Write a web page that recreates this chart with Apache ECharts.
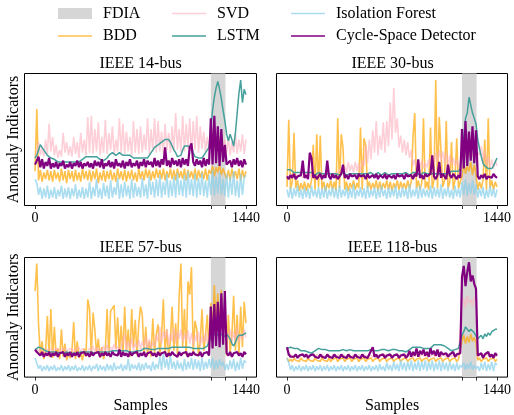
<!DOCTYPE html>
<html>
<head>
<meta charset="utf-8">
<script src="https://cdn.jsdelivr.net/npm/echarts@6/dist/echarts.min.js"></script>
<style>
  html, body { margin: 0; padding: 0; background: #fff; }
  #chart { width: 514px; height: 415px; }
</style>
</head>
<body>
<div id="chart"></div>
<script>
// sample spacing of the typed values (every 12th sample of 0..1440)
const STEP = 12;
const FDIA_START = 1200;
const FDIA_END = 1300;
const xTicks = [0, 1200, 1300, 1440];
const xLabels = [0, 1440];
const titles = ['IEEE 14-bus', 'IEEE 30-bus', 'IEEE 57-bus', 'IEEE 118-bus'];

// ---- IEEE 14-bus ----
const bdd14 = [
  26,73,19,27,18,25,20,27,19,26,
  18,27,20,25,18,28,19,26,17,27,
  20,26,18,27,19,25,18,28,20,26,
  19,27,18,26,20,28,17,25,19,27,
  18,26,20,27,19,25,18,28,20,26,
  19,27,18,26,20,27,19,25,18,28,
  20,26,19,28,21,27,19,26,20,28,
  21,27,20,28,19,26,21,28,20,27,
  19,28,21,26,20,28,19,27,21,26,
  20,28,19,27,21,26,20,28,19,27,
  24,30,22,29,25,31,23,28,24,20,
  27,19,28,21,26,20,28,19,27,21,
  26
];
const svd14 = [
  36,40,48,38,44,37,50,39,62,41,
  52,38,46,36,42,37,55,40,48,38,
  45,37,52,39,48,36,55,40,50,38,
  67,40,68,39,58,41,63,38,52,40,
  65,39,55,42,60,38,50,41,66,40,
  62,39,56,41,52,38,64,40,58,39,
  60,40,54,42,66,39,58,41,66,40,
  64,41,56,39,62,42,55,40,60,41,
  70,42,58,40,68,41,62,43,66,40,
  64,42,68,40,60,43,56,41,52,42,
  55,45,60,44,58,46,52,43,50,40,
  52,38,48,40,55,39,50,41,54,39,
  50
];
const lstm14 = [
  36,38,42,46,44,42,40,38,37,36,
  36,35,34,33,34,33,32,33,34,33,
  32,33,34,33,32,33,34,35,36,37,
  36,37,38,37,36,37,36,35,35,34,
  35,36,38,39,40,39,38,39,40,39,
  38,39,38,37,38,37,36,37,36,35,
  36,35,36,37,36,38,40,42,44,45,
  46,47,48,49,50,49,50,48,45,42,
  40,37,36,38,42,45,46,45,46,44,
  40,37,36,36,37,36,38,40,41,44,
  58,72,82,89,94,88,81,72,64,54,
  49,54,50,45,55,70,85,95,78,88,
  84
];
const iforest14 = [
  20,17,8,14,5,13,6,15,5,12,
  6,14,5,12,7,15,5,13,6,14,
  5,13,7,16,5,12,6,14,5,13,
  6,18,5,14,7,20,6,13,5,17,
  7,15,5,19,6,14,8,21,5,16,
  6,18,7,15,5,20,6,17,7,14,
  6,21,7,16,5,22,8,18,6,20,
  7,23,6,18,8,24,6,19,7,22,
  6,25,8,19,7,23,6,26,8,20,
  7,24,6,21,8,25,7,19,6,23,
  8,27,7,22,9,25,8,20,7,24,
  6,22,8,26,7,19,6,24,8,21,
  23
];
const csd14 = [
  31,34,37,29,35,28,33,30,36,28,
  32,29,33,28,32,30,34,28,31,29,
  33,28,32,30,34,29,33,28,32,30,
  33,29,32,28,34,30,33,29,35,28,
  32,30,34,29,33,28,35,30,32,29,
  34,28,33,30,35,29,32,30,34,28,
  33,30,35,29,34,31,33,29,36,30,
  34,29,35,31,44,30,34,29,36,31,
  34,30,35,29,36,31,35,30,44,47,
  33,30,35,31,34,29,36,30,35,31,
  66,31,68,32,60,30,58,33,46,31,
  30,34,29,35,31,36,30,34,29,35,
  31
];

// ---- IEEE 30-bus ----
const bdd30 = [
  14,65,12,18,55,13,19,11,17,12,
  18,11,17,13,19,46,12,54,14,53,
  12,18,11,17,13,19,12,18,11,66,
  13,54,44,12,18,11,17,13,19,12,
  17,13,59,12,51,45,13,18,12,17,
  13,19,11,18,12,17,13,19,12,18,
  11,17,13,19,12,18,13,17,12,19,
  13,18,52,70,13,19,12,17,66,13,
  18,12,59,13,19,95,13,67,67,14,
  19,64,13,18,48,12,19,51,13,18,
  22,32,24,30,26,33,23,31,24,12,
  18,13,19,50,12,66,13,19,12,18,
  14
];
const svd30 = [
  23,21,24,22,25,21,23,22,24,21,
  23,25,22,24,21,25,22,24,23,25,
  22,24,23,25,22,24,21,24,23,25,
  24,28,26,30,25,33,26,31,25,33,
  26,32,25,34,30,46,32,50,35,57,
  40,64,38,53,42,63,40,64,45,78,
  50,89,55,66,44,53,40,50,38,48,
  36,42,30,35,28,33,29,34,28,32,
  29,35,30,38,31,40,33,42,34,41,
  32,40,30,38,31,36,30,35,29,33,
  35,45,38,42,36,44,37,40,35,40,
  38,45,33,42,30,37,29,35,28,34,
  30
];
const lstm30 = [
  27,26,27,26,25,26,25,26,25,24,
  25,24,25,24,25,24,23,24,25,24,
  24,25,24,23,24,25,24,23,24,24,
  23,24,25,24,23,24,24,23,24,25,
  24,23,24,25,24,23,24,24,25,24,
  23,24,25,24,23,24,25,24,23,24,
  24,25,24,23,24,25,24,24,25,24,
  23,24,25,24,25,24,23,24,25,24,
  24,25,24,23,24,25,24,25,24,25,
  24,25,24,25,26,25,26,27,26,28,
  40,52,66,70,82,76,70,66,62,50,
  43,37,32,30,29,28,29,28,30,33,
  36
];
const iforest30 = [
  12,6,14,5,13,7,15,6,12,5,
  14,6,13,5,15,7,12,6,14,5,
  13,6,15,5,12,7,14,6,13,5,
  15,6,12,7,14,5,13,6,16,5,
  12,7,14,6,13,5,15,6,12,7,
  14,5,13,6,15,7,12,5,14,6,
  13,7,15,5,12,6,14,7,13,5,
  16,6,12,7,14,5,15,6,13,7,
  12,6,15,5,14,7,13,6,16,5,
  13,7,14,6,12,5,15,7,13,6,
  18,8,20,7,17,9,19,8,16,6,
  13,7,14,5,12,6,15,7,13,6,
  12
];
const csd30 = [
  22,20,23,21,24,20,22,21,23,34,
  21,23,20,40,36,21,23,20,22,24,
  20,23,21,34,22,20,24,21,23,20,
  22,24,31,21,23,20,24,22,21,23,
  20,24,22,21,23,20,24,21,22,23,
  21,24,20,23,22,21,24,20,23,22,
  21,23,20,24,22,21,23,20,24,22,
  21,23,20,24,22,35,21,23,20,24,
  22,21,24,38,22,20,23,33,21,24,
  22,20,31,23,21,24,22,20,23,21,
  58,28,64,30,56,34,60,32,57,22,
  20,23,21,24,20,22,23,21,24,22,
  21
];

// ---- IEEE 57-bus ----
const bdd57 = [
  72,95,44,18,30,15,22,51,17,57,
  16,42,18,24,15,40,17,28,14,20,
  16,22,46,15,30,16,20,14,24,17,
  65,57,18,54,40,20,32,16,25,15,
  22,57,18,55,55,60,24,50,20,43,
  18,59,22,40,17,57,25,48,18,44,
  59,52,20,42,18,30,17,49,20,36,
  44,18,35,65,20,40,17,30,59,22,
  45,19,68,95,25,57,18,80,69,92,
  20,47,40,18,30,57,22,35,52,20,
  62,40,77,45,70,42,73,38,60,18,
  52,20,35,68,22,52,18,59,25,63,
  45
];
const svd57 = [
  22,24,21,23,22,24,21,23,22,24,
  21,23,22,24,21,23,22,24,21,23,
  22,24,21,23,22,25,21,24,22,23,
  21,24,22,26,21,25,22,24,21,26,
  22,27,21,25,23,28,22,26,21,25,
  24,36,22,30,24,33,22,28,25,31,
  23,30,25,34,22,32,24,29,26,35,
  30,42,28,38,32,40,27,36,30,41,
  28,38,32,40,29,36,31,39,28,37,
  27,35,30,38,26,34,29,37,28,33,
  40,48,38,46,42,50,39,45,41,30,
  34,40,28,38,30,42,29,36,31,40,
  33
];
const lstm57 = [
  23,24,25,25,24,23,22,22,21,21,
  21,20,21,20,20,21,20,20,21,20,
  20,21,20,21,20,20,21,20,21,20,
  21,20,21,21,20,21,21,22,21,21,
  21,22,21,21,22,21,22,21,22,21,
  22,21,22,22,21,22,21,22,22,21,
  22,23,24,23,24,24,23,24,23,24,
  24,23,24,25,24,23,24,24,25,24,
  25,24,25,26,25,26,25,24,25,24,
  24,25,24,25,24,25,24,25,26,27,
  33,35,34,36,35,34,36,35,34,36,
  35,32,28,26,29,33,35,36,35,36,
  37
];
const iforest57 = [
  16,15,7,10,5,9,6,10,5,9,
  6,10,5,8,6,10,5,9,6,10,
  5,9,6,10,5,8,6,10,5,9,
  6,10,5,9,7,11,5,10,6,9,
  5,11,6,10,5,12,6,9,7,11,
  5,10,6,15,5,11,7,10,6,12,
  5,11,6,12,7,10,5,13,6,11,
  7,17,6,20,8,15,6,18,7,13,
  6,14,7,12,5,15,6,13,7,16,
  6,15,7,14,5,16,6,13,7,15,
  8,16,6,14,7,15,9,13,6,11,
  6,14,7,15,5,13,6,16,7,14,
  12
];
const csd57 = [
  23,21,22,18,21,17,20,18,21,17,
  20,18,21,17,20,19,21,17,20,18,
  21,17,20,18,21,17,20,19,21,18,
  20,17,21,18,20,19,21,17,20,18,
  21,18,20,17,21,19,20,18,23,17,
  21,18,20,17,21,18,20,19,21,17,
  20,18,21,17,20,19,21,18,20,17,
  21,18,20,19,21,17,20,18,21,19,
  20,17,21,18,20,19,21,17,20,18,
  21,19,20,18,21,17,20,19,21,18,
  59,24,61,26,63,25,70,27,72,20,
  18,21,17,20,19,21,18,20,17,21,
  19
];

// ---- IEEE 118-bus ----
const bdd118 = [
  16,13,15,13,16,14,15,13,16,14,
  15,13,16,14,15,13,16,14,15,13,
  16,14,15,13,16,13,15,14,16,13,
  15,14,16,13,15,14,16,13,15,14,
  16,13,15,14,16,13,15,14,16,13,
  15,14,16,13,15,14,16,13,15,14,
  16,13,15,14,16,13,15,14,16,13,
  15,14,16,13,15,14,16,13,15,14,
  16,13,15,14,16,13,15,14,16,13,
  15,14,16,13,15,14,16,13,15,14,
  30,35,28,34,29,36,30,33,29,14,
  16,13,15,14,16,13,15,14,16,13,
  15
];
const svd118 = [
  18,17,19,18,17,19,18,17,19,18,
  17,19,18,17,19,18,17,19,18,17,
  19,18,17,19,18,17,19,18,17,19,
  18,17,19,18,17,19,18,17,19,18,
  17,19,18,17,19,18,17,19,18,17,
  19,18,17,19,18,17,19,18,17,19,
  18,17,19,18,17,19,18,17,19,18,
  17,19,18,17,19,18,17,19,18,17,
  19,18,17,19,18,17,19,18,17,19,
  18,17,19,18,17,19,18,17,19,18,
  60,66,58,68,62,65,59,67,61,18,
  17,19,18,17,19,18,17,19,18,17,
  18
];
const lstm118 = [
  24,24,25,24,24,23,24,23,22,22,
  22,21,21,21,20,21,22,23,24,23,
  23,24,23,23,22,23,22,22,22,22,
  22,22,23,22,22,22,23,22,22,22,
  22,23,22,22,22,23,22,22,23,22,
  22,23,22,23,23,22,23,23,22,23,
  23,22,23,23,22,23,22,22,21,22,
  23,24,25,26,25,26,25,24,24,25,
  24,23,24,25,27,26,27,28,27,28,
  26,25,24,23,22,22,23,24,24,25,
  35,38,42,40,38,40,41,37,36,32,
  33,35,32,36,34,37,35,38,37,40,
  40
];
const iforest118 = [
  16,12,6,10,5,9,6,10,5,9,
  6,10,5,9,6,10,5,9,6,10,
  5,9,6,10,5,9,6,10,5,9,
  6,10,5,9,6,10,5,9,6,10,
  5,9,6,10,5,9,6,10,5,9,
  6,10,5,11,6,9,5,12,6,10,
  5,13,6,11,5,14,6,12,5,13,
  6,14,5,12,6,14,5,13,6,14,
  5,13,6,14,5,12,6,14,5,13,
  6,12,5,13,6,11,5,12,6,10,
  8,12,6,11,7,13,6,10,7,9,
  5,12,6,13,5,11,6,13,5,12,
  10
];
const csd118 = [
  25,19,17,18,17,19,16,18,17,19,
  17,19,16,18,17,19,17,18,16,19,
  17,18,16,19,17,18,16,19,17,18,
  16,19,17,18,16,19,17,18,16,19,
  17,18,16,19,17,18,16,19,22,25,
  17,19,16,18,17,19,16,18,17,19,
  16,18,17,19,16,18,17,19,16,18,
  22,17,21,18,24,17,22,19,23,18,
  21,17,24,19,22,18,23,17,21,19,
  18,20,17,19,18,21,17,19,18,20,
  84,93,76,88,96,80,85,78,74,18,
  17,20,16,19,18,21,17,19,16,20,
  18
];

const FONT = "'Liberation Serif', 'Times New Roman', serif";
const GRAY = '#d6d6d6';
const LINE_ICON = 'path://M0,0 H34 V1.6 H0 Z';

const methods = [
  { name: 'BDD', color: 'rgba(255,165,0,0.7)', width: 1.6, data: [bdd14, bdd30, bdd57, bdd118] },
  { name: 'SVD', color: 'rgba(255,175,190,0.6)', width: 1.6, data: [svd14, svd30, svd57, svd118] },
  { name: 'LSTM', color: '#45a09b', width: 1.5, data: [lstm14, lstm30, lstm57, lstm118] },
  { name: 'Isolation Forest', color: 'rgba(135,206,235,0.7)', width: 1.6, data: [iforest14, iforest30, iforest57, iforest118] },
  { name: 'Cycle-Space Detector', color: '#800080', width: 2.2, data: [csd14, csd30, csd57, csd118] }
];

const grids = [
  { left: 24.5, top: 73.5, width: 232, height: 132 },
  { left: 276.5, top: 73.5, width: 232, height: 132 },
  { left: 24.5, top: 257.5, width: 232, height: 132 },
  { left: 276.5, top: 257.5, width: 232, height: 132 }
];
const titleY = [63.5, 63.5, 248, 248];

function toPoints(arr) {
  return arr.map(function (v, i) { return [i * STEP, v]; });
}

const series = [];
grids.forEach(function (g, i) {
  series.push({
    name: 'FDIA', type: 'line', xAxisIndex: i, yAxisIndex: i,
    data: [], symbol: 'none', silent: true,
    itemStyle: { color: GRAY }, lineStyle: { color: GRAY },
    markArea: {
      silent: true,
      itemStyle: { color: GRAY },
      label: { show: false },
      data: [[{ xAxis: FDIA_START }, { xAxis: FDIA_END }]]
    }
  });
  methods.forEach(function (m) {
    series.push({
      name: m.name, type: 'line', xAxisIndex: i, yAxisIndex: i,
      data: toPoints(m.data[i]),
      symbol: 'none', showSymbol: false, silent: true,
      itemStyle: { color: m.color },
      lineStyle: { color: m.color, width: m.width },
      emphasis: { disabled: true }
    });
  });
});

const legendBase = {
  orient: 'vertical', top: 5.5, itemWidth: 34, itemHeight: 11, itemGap: 6.5, padding: 0,
  selectedMode: false,
  textStyle: { fontFamily: FONT, fontSize: 16, color: '#000', lineHeight: 16, padding: [0, 0, 0, 6] }
};
function lineItem(name) {
  return { name: name, icon: LINE_ICON };
}

const chart = echarts.init(document.getElementById('chart'), null, { renderer: 'canvas' });
chart.setOption({
  animation: false,
  backgroundColor: '#fff',
  grid: grids.map(function (g) {
    return Object.assign({ show: true, borderColor: '#000', borderWidth: 1, backgroundColor: 'transparent' }, g);
  }),
  xAxis: grids.map(function (g, i) {
    return {
      gridIndex: i, type: 'value', min: -72, max: 1512,
      axisLine: { show: false },
      axisTick: { show: true, customValues: xTicks, length: 3.5, lineStyle: { color: '#000', width: 0.8 } },
      axisLabel: {
        customValues: xLabels, fontFamily: FONT, fontSize: 14, color: '#000', margin: 6,
        formatter: function (v) { return String(v); }
      },
      splitLine: { show: false },
      name: i >= 2 ? 'Samples' : '',
      nameLocation: 'middle', nameGap: 8,
      nameTextStyle: { fontFamily: FONT, fontSize: 16, color: '#000' }
    };
  }),
  yAxis: grids.map(function (g, i) {
    return {
      gridIndex: i, type: 'value', min: 0, max: 100,
      axisLine: { show: false }, axisTick: { show: false },
      axisLabel: { show: false }, splitLine: { show: false },
      name: i % 2 === 0 ? 'Anomaly Indicators' : '',
      nameLocation: 'middle', nameGap: 3,
      nameTextStyle: { fontFamily: FONT, fontSize: 16, color: '#000' }
    };
  }),
  legend: [
    Object.assign({}, legendBase, { left: 58, data: [{ name: 'FDIA', icon: 'rect', itemStyle: { color: GRAY } }, lineItem('BDD')] }),
    Object.assign({}, legendBase, { left: 172, data: [lineItem('SVD'), lineItem('LSTM')] }),
    Object.assign({}, legendBase, { left: 291, data: [lineItem('Isolation Forest'), lineItem('Cycle-Space Detector')] })
  ],
  graphic: titles.map(function (t, i) {
    return {
      type: 'text', silent: true,
      x: grids[i].left + grids[i].width / 2, y: titleY[i],
      style: { text: t, fontFamily: FONT, fontSize: 16, fill: '#000', align: 'center', verticalAlign: 'middle' }
    };
  }),
  series: series
});
</script>
</body>
</html>
